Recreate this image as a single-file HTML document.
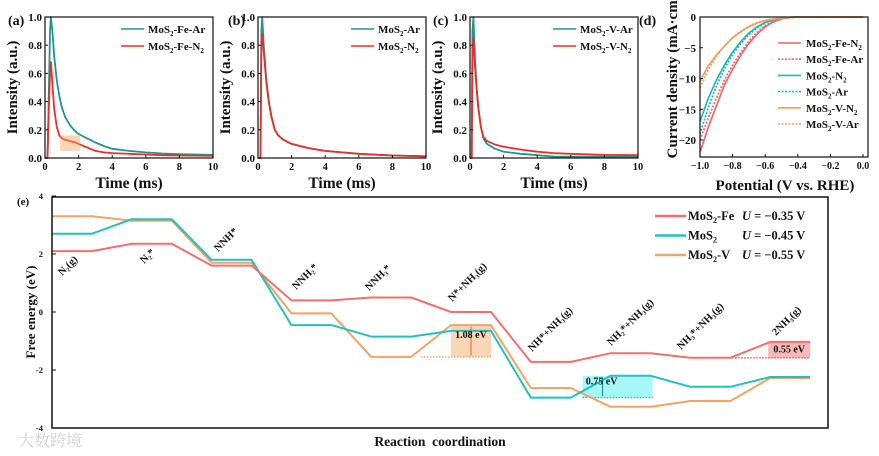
<!DOCTYPE html>
<html><head><meta charset="utf-8"><style>
html,body{margin:0;padding:0;background:#fff;}
svg{display:block;font-family:"Liberation Serif","Noto Serif CJK SC",serif;font-weight:bold;}
</style></head><body>
<svg id="fig" width="879" height="456" viewBox="0 0 879 456" xmlns="http://www.w3.org/2000/svg"></svg>
<script>
// ---------- data: decay panels ----------
const tA = [0,0.15,0.2,0.3,0.35,0.45,0.55,0.7,0.85,1,1.2,1.5,1.8,2,2.5,3,3.5,4,5,6,7,8,10];
const aTeal = [0,0,0.3,0.9,1.0,0.88,0.72,0.55,0.44,0.36,0.29,0.23,0.19,0.17,0.14,0.11,0.085,0.065,0.05,0.04,0.032,0.027,0.022];
const aRed = [0,0,0.25,0.6,0.68,0.5,0.35,0.22,0.16,0.14,0.13,0.12,0.11,0.1,0.075,0.05,0.04,0.035,0.03,0.025,0.02,0.018,0.015];
const tB = [0,0.15,0.2,0.25,0.35,0.5,0.65,0.8,1,1.2,1.5,2,2.5,3,4,5,6,8,10];
const bTeal = [0,0,0.9,1.0,0.78,0.55,0.4,0.3,0.2,0.16,0.13,0.1,0.085,0.07,0.05,0.04,0.03,0.018,0.012];
const bRed = [0,0,0.85,0.88,0.74,0.53,0.39,0.29,0.2,0.16,0.13,0.1,0.085,0.07,0.05,0.04,0.03,0.018,0.012];
const tC = [0,0.1,0.15,0.2,0.3,0.4,0.5,0.65,0.8,1,1.5,2,3,4,5,6,8,10];
const cTeal = [0,0,0.9,1.0,0.7,0.5,0.35,0.22,0.14,0.1,0.065,0.045,0.03,0.02,0.01,0.01,0.01,0.01];
const cRed = [0,0,0.8,0.85,0.65,0.48,0.35,0.22,0.15,0.12,0.095,0.08,0.06,0.045,0.035,0.03,0.022,0.02];
const decayYTicks = ["0.0","0.2","0.4","0.6","0.8","1.0"];
const decayXTicks = ["0","2","4","6","8","10"];
// ---------- data: LSV ----------
const pot = [-1,-0.95,-0.9,-0.85,-0.8,-0.75,-0.7,-0.65,-0.6,-0.55,-0.5,-0.45,-0.4,0];
const feN2 = [-22,-18,-14.5,-11,-8.5,-6.2,-4.3,-2.8,-1.6,-0.8,-0.3,-0.1,0,0];
const feAr = [-20,-16.5,-13.2,-10.2,-7.8,-5.7,-3.9,-2.5,-1.4,-0.7,-0.3,-0.1,0,0];
const moN2 = [-17,-13.3,-10.3,-7.8,-5.7,-4,-2.6,-1.6,-0.9,-0.45,-0.2,-0.05,0,0];
const moAr = [-19,-14.8,-11.3,-8.4,-6.1,-4.3,-2.9,-1.8,-1,-0.5,-0.2,-0.05,0,0];
const vN2 = [-10.5,-8,-6.2,-4.7,-3.4,-2.4,-1.6,-1,-0.6,-0.35,-0.2,-0.1,0,0];
const vAr = [-11.5,-8.6,-6.4,-4.7,-3.3,-2.3,-1.5,-0.9,-0.5,-0.3,-0.15,-0.05,0,0];
const lsvYTicks = ["0","−5","−10","−15","−20"];
const lsvXTicks = ["−1.0","−0.8","−0.6","−0.4","−0.2","0.0"];
// ---------- data: free energy ----------
const steps = ["N2(g)","N2*","NNH*","NNH2*","NNH3*","N*+NH3(g)","NH*+NH3(g)","NH2*+NH3(g)","NH3*+NH3(g)","2NH3(g)"];
const gFe = [2.1,2.35,1.6,0.4,0.5,0.0,-1.72,-1.42,-1.58,-1.03];
const gMo = [2.7,3.2,1.8,-0.45,-0.85,-0.65,-2.95,-2.2,-2.58,-2.24];
const gV = [3.3,3.15,1.7,-0.05,-1.55,-0.45,-2.62,-3.27,-3.07,-2.28];
const eYTicks = ["4","2","0","-2","-4"];

const NS="http://www.w3.org/2000/svg";
const svg=document.getElementById('fig');
function mk(tag,attrs,name,parent){
  const el=document.createElementNS(NS,tag);
  for(const k in attrs) el.setAttribute(k,attrs[k]);
  
  
  (parent||svg).appendChild(el);
  return el;
}
function txt(x,y,s,size,name,anchor,extra){
  const t=mk('text',Object.assign({x:x,y:y,'font-size':size,'text-anchor':anchor||'start',fill:'#111'},extra||{}),name);
  t.innerHTML=s;
  return t;
}
function poly(xs,ys,fx,fy,color,w,name,dash){
  const pts=xs.map((v,i)=>fx(v).toFixed(1)+','+fy(ys[i]).toFixed(1)).join(' ');
  const a={points:pts,fill:'none',stroke:color,'stroke-width':w,'stroke-linejoin':'round'};
  if(dash) a['stroke-dasharray']=dash;
  return mk('polyline',a,name);
}
const TEAL='#1f958f', RED='#e8302a';

function decayPanel(x0,x1,y0,y1,label,lx,ts,teal,red,legT,legR,legX,ylabX,key){
  const fx=v=>x0+(x1-x0)*v/10, fy=v=>y1-(y1-y0)*v/1.0;
  poly(ts,teal,fx,fy,TEAL,1.8,key+'-ar-curve');
  poly(ts,red,fx,fy,RED,1.8,key+'-n2-curve');
  mk('rect',{x:x0,y:y0,width:x1-x0,height:y1-y0,fill:'none',stroke:'#111','stroke-width':1.2},key+'-plot-frame');
  decayYTicks.forEach((s,i)=>{const y=fy(i*0.2);
    mk('line',{x1:x0,y1:y,x2:x0+3,y2:y,stroke:'#111'},key+'-y-tick');
    txt(x0-3,y+4,s,11,key+'-y-tick-label','end');});
  decayXTicks.forEach((s,i)=>{const x=fx(i*2);
    mk('line',{x1:x,y1:y1,x2:x,y2:y1-3,stroke:'#111'},key+'-x-tick');
    txt(x,y1+12,s,10.5,key+'-x-tick-label','middle');});
  txt((x0+x1)/2,y1+30,'Time (ms)',15.5,key+'-x-axis-title','middle');
  txt(0,0,'Intensity (a.u.)',15,key+'-y-axis-title','middle',{transform:`translate(${ylabX},${(y0+y1)/2}) rotate(-90)`});
  txt(lx,25,label,14,key+'-panel-label');
  mk('line',{x1:legX,y1:29,x2:legX+23,y2:29,stroke:TEAL,'stroke-width':1.6},key+'-legend-ar-line');
  txt(legX+27,33,legT,11,key+'-legend-ar');
  mk('line',{x1:legX,y1:46,x2:legX+23,y2:46,stroke:RED,'stroke-width':1.6},key+'-legend-n2-line');
  txt(legX+27,50,legR,11,key+'-legend-n2');
}
decayPanel(45,213,17,158,'(a)',8,tA,aTeal,aRed,'MoS<tspan font-size="7" dy="3">2</tspan><tspan dy="-3">-Fe-Ar</tspan>','MoS<tspan font-size="7" dy="3">2</tspan><tspan dy="-3">-Fe-N</tspan><tspan font-size="7" dy="3">2</tspan>',121,17,'panel-a');
mk('rect',{x:45+168*0.09,y:158-141*0.16,width:168*0.12,height:141*0.11,fill:'#f4a460','fill-opacity':0.45},'panel-a-highlight');
decayPanel(258,426,17,158,'(b)',228,tB,bTeal,bRed,'MoS<tspan font-size="7" dy="3">2</tspan><tspan dy="-3">-Ar</tspan>','MoS<tspan font-size="7" dy="3">2</tspan><tspan dy="-3">-N</tspan><tspan font-size="7" dy="3">2</tspan>',351,230,'panel-b');
decayPanel(470,638,17,158,'(c)',433,tC,cTeal,cRed,'MoS<tspan font-size="7" dy="3">2</tspan><tspan dy="-3">-V-Ar</tspan>','MoS<tspan font-size="7" dy="3">2</tspan><tspan dy="-3">-V-N</tspan><tspan font-size="7" dy="3">2</tspan>',553,442,'panel-c');

// ---------- panel d ----------
(function(){
  const x0=700,x1=868,y0=17,y1=157;
  const fx=v=>700+163*(v+1), fy=v=>17-6.15*v;
  const lines=[[feN2,'#ec6a6a',null,'MoS<tspan font-size="7" dy="3">2</tspan><tspan dy="-3">-Fe-N</tspan><tspan font-size="7" dy="3">2</tspan>','fe-n2'],
    [feAr,'#ec6a6a','2,1.5','MoS<tspan font-size="7" dy="3">2</tspan><tspan dy="-3">-Fe-Ar</tspan>','fe-ar'],
    [moN2,'#22b8b8',null,'MoS<tspan font-size="7" dy="3">2</tspan><tspan dy="-3">-N</tspan><tspan font-size="7" dy="3">2</tspan>','mos2-n2'],
    [moAr,'#22b8b8','2,1.5','MoS<tspan font-size="7" dy="3">2</tspan><tspan dy="-3">-Ar</tspan>','mos2-ar'],
    [vN2,'#f0a060',null,'MoS<tspan font-size="7" dy="3">2</tspan><tspan dy="-3">-V-N</tspan><tspan font-size="7" dy="3">2</tspan>','v-n2'],
    [vAr,'#f0a060','2,1.5','MoS<tspan font-size="7" dy="3">2</tspan><tspan dy="-3">-V-Ar</tspan>','v-ar']];
  lines.forEach((l,i)=>{
    poly(pot,l[0],fx,fy,l[1],1.7,'lsv-'+l[4]+'-curve',l[2]);
    const y=43+i*16.2;
    const a={x1:778,y1:y,x2:801,y2:y,stroke:l[1],'stroke-width':1.6};
    if(l[2]) a['stroke-dasharray']=l[2];
    mk('line',a,'lsv-legend-'+l[4]+'-line');
    txt(806,y+4,l[3],11,'lsv-legend-'+l[4]);
  });
  mk('rect',{x:x0,y:y0,width:x1-x0,height:y1-y0,fill:'none',stroke:'#111','stroke-width':1.2},'panel-d-plot-frame');
  lsvYTicks.forEach((s,i)=>{const y=fy(-5*i);
    mk('line',{x1:x0,y1:y,x2:x0+3,y2:y,stroke:'#111'},'panel-d-y-tick');
    txt(x0-4,y+4,s,11,'panel-d-y-tick-label','end');});
  lsvXTicks.forEach((s,i)=>{const x=fx(-1+0.2*i);
    mk('line',{x1:x,y1:y1,x2:x,y2:y1-3,stroke:'#111'},'panel-d-x-tick');
    txt(x,y1+12,s,10,'panel-d-x-tick-label','middle');});
  txt(785,190,'Potential (V vs. RHE)',15,'panel-d-x-axis-title','middle');
  txt(0,0,'Current  density (mA·cm<tspan font-size="9" dy="-5">−2</tspan><tspan dy="5">)</tspan>',15,'panel-d-y-axis-title','middle',{transform:'translate(677,72) rotate(-90)'});
  txt(639,25,'(d)',14,'panel-d-label');
})();

// ---------- panel e ----------
(function(){
  const X0=52,X1=828,Y0=197,Y1=428;
  const fy=v=>312-29*v;
  const lx=i=>52+i*79.8;
  const LW=40;
  mk('rect',{x:lx(5),y:fy(-0.45),width:LW,height:fy(-1.55)-fy(-0.45),fill:'#f4a460','fill-opacity':0.45},'gap-1-08-box');
  mk('line',{x1:lx(5)-30,y1:fy(-1.55),x2:lx(5)+LW,y2:fy(-1.55),stroke:'#f0a060','stroke-width':1.3,'stroke-dasharray':'1.5,1.5'},'gap-1-08-baseline');
  mk('rect',{x:lx(7)-28,y:fy(-2.2),width:LW+30,height:fy(-2.95)-fy(-2.2),fill:'#5ef0f0','fill-opacity':0.55},'gap-0-75-box');
  mk('line',{x1:lx(7)-28,y1:fy(-2.95),x2:lx(7)+LW+2,y2:fy(-2.95),stroke:'#22b8b8','stroke-width':1.3,'stroke-dasharray':'1.5,1.5'},'gap-0-75-baseline');
  mk('rect',{x:lx(9)-2,y:fy(-1.03),width:LW+2,height:fy(-1.58)-fy(-1.03),fill:'#f08080','fill-opacity':0.55},'gap-0-55-box');
  mk('line',{x1:lx(9)-38,y1:fy(-1.58),x2:lx(9)+LW,y2:fy(-1.58),stroke:'#e85050','stroke-width':1.3,'stroke-dasharray':'1.5,1.5'},'gap-0-55-baseline');
  const series=[[gV,'#f2a464','mos2-v'],[gMo,'#22c0c0','mos2'],[gFe,'#f07070','mos2-fe']];
  series.forEach(s=>{
    const xs=[],ys=[];
    s[0].forEach((v,i)=>{xs.push(lx(i),lx(i)+LW);ys.push(v,v);});
    poly(xs,ys,x=>x,fy,s[1],2,'energy-path-'+s[2]);
  });
  mk('line',{x1:lx(5)+20,y1:fy(-0.5),x2:lx(5)+20,y2:fy(-1.5),stroke:'#e07020','stroke-width':1},'gap-1-08-arrow');
  mk('line',{x1:lx(7)-8,y1:fy(-2.25),x2:lx(7)-8,y2:fy(-2.9),stroke:'#108080','stroke-width':1},'gap-0-75-arrow');
  txt(lx(5)+20,fy(-0.9),'1.08 eV',10,'gap-1-08-label','middle');
  txt(lx(7)-9,fy(-2.5),'0.75 eV',10,'gap-0-75-label','middle');
  txt(lx(9)+19,fy(-1.4),'0.55 eV',10,'gap-0-55-label','middle');
  mk('rect',{x:X0,y:Y0,width:X1-X0,height:Y1-Y0,fill:'none',stroke:'#111','stroke-width':1.5},'panel-e-plot-frame');
  eYTicks.forEach((s,i)=>{const y=fy(4-2*i);
    mk('line',{x1:X0,y1:y,x2:X0+4,y2:y,stroke:'#111'},'panel-e-y-tick');
    txt(X0-9,y+3,s,8.5,'panel-e-y-tick-label','end');});
  txt(0,0,'Free energy (eV)',13,'panel-e-y-axis-title','middle',{transform:'translate(35,312) rotate(-90)'});
  txt(440,446,'Reaction&#160; coordination',13.5,'panel-e-x-axis-title','middle');
  txt(17,205,'(e)',11,'panel-e-label');
  const labelPos=[[62,276],[144,264],[218,252],[296,290],[369,291],[452,302],[532,352],[611,346],[681,350],[776,336]];
  const labelHtml=['N<tspan font-size="6" dy="2">2</tspan><tspan dy="-2">(g)</tspan>','N<tspan font-size="6" dy="2">2</tspan><tspan dy="-2">*</tspan>','NNH*',
   'NNH<tspan font-size="6" dy="2">2</tspan><tspan dy="-2">*</tspan>','NNH<tspan font-size="6" dy="2">3</tspan><tspan dy="-2">*</tspan>',
   'N*+NH<tspan font-size="6" dy="2">3</tspan><tspan dy="-2">(g)</tspan>','NH*+NH<tspan font-size="6" dy="2">3</tspan><tspan dy="-2">(g)</tspan>',
   'NH<tspan font-size="6" dy="2">2</tspan><tspan dy="-2">*+NH</tspan><tspan font-size="6" dy="2">3</tspan><tspan dy="-2">(g)</tspan>',
   'NH<tspan font-size="6" dy="2">3</tspan><tspan dy="-2">*+NH</tspan><tspan font-size="6" dy="2">3</tspan><tspan dy="-2">(g)</tspan>',
   '2NH<tspan font-size="6" dy="2">3</tspan><tspan dy="-2">(g)</tspan>'];
  steps.forEach((s,i)=>{
    const p=labelPos[i];
    txt(0,0,labelHtml[i],10.5,'step-label-'+i,'start',{transform:`translate(${p[0]},${p[1]}) rotate(-45)`});
  });
  const leg=[['#f07070','MoS<tspan font-size="8" dy="3">2</tspan><tspan dy="-3">-Fe</tspan>','−0.35','mos2-fe'],
    ['#22c0c0','MoS<tspan font-size="8" dy="3">2</tspan>','−0.45','mos2'],
    ['#f2a464','MoS<tspan font-size="8" dy="3">2</tspan><tspan dy="-3">-V</tspan>','−0.55','mos2-v']];
  leg.forEach((l,i)=>{const y=216+i*19.5;
    mk('line',{x1:655,y1:y,x2:686,y2:y,stroke:l[0],'stroke-width':2.4},'legend-'+l[3]+'-line');
    txt(688,y+4,l[1],12.5,'legend-'+l[3]);
    txt(742,y+4,'<tspan font-style="italic">U</tspan> = '+l[2]+' V',12.5,'legend-'+l[3]+'-potential');
  });
})();
txt(18,446,'大数跨境',16,'watermark','start',{fill:'#cfcfcf','font-weight':'normal'});
</script>
</body></html>
